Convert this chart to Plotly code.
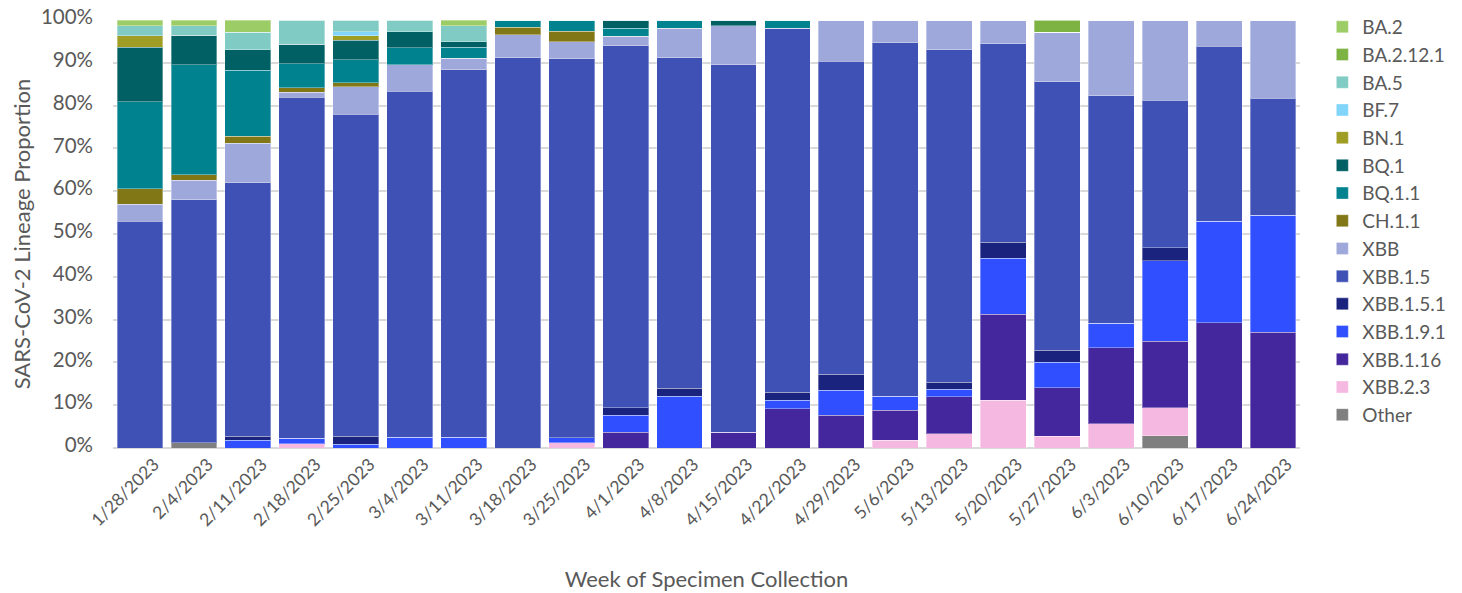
import plotly.graph_objects as go

weeks = ["1/28/2023", "2/4/2023", "2/11/2023", "2/18/2023", "2/25/2023", "3/4/2023",
         "3/11/2023", "3/18/2023", "3/25/2023", "4/1/2023", "4/8/2023", "4/15/2023",
         "4/22/2023", "4/29/2023", "5/6/2023", "5/13/2023", "5/20/2023", "5/27/2023",
         "6/3/2023", "6/10/2023", "6/17/2023", "6/24/2023"]

# Stack order bottom -> top
other     = [0, 1.2, 0, 0, 0, 0, 0, 0, 0, 0, 0, 0, 0, 0, 0, 0, 0, 0, 0, 2.9, 0, 0]
xbb_2_3   = [0, 0, 0, 1.0, 0, 0, 0, 0, 1.2, 0, 0, 0, 0, 0, 1.8, 3.3, 11.1, 2.8, 5.7, 6.5, 0, 0]
xbb_1_16  = [0, 0, 0, 0, 0, 0, 0, 0, 0, 3.7, 0, 3.7, 9.2, 7.6, 7.0, 8.7, 20.1, 11.3, 17.7, 15.6, 29.3, 27.1]
xbb_1_9_1 = [0, 0, 1.8, 1.3, 0.9, 2.5, 2.5, 0, 1.2, 3.9, 12.1, 0, 2.0, 5.9, 3.3, 1.7, 13.1, 5.9, 5.8, 18.7, 23.7, 27.3]
xbb_1_5_1 = [0, 0, 1.0, 0, 1.8, 0, 0, 0, 0, 1.8, 1.9, 0, 1.8, 3.7, 0, 1.7, 3.8, 2.8, 0, 3.1, 0, 0]
xbb_1_5   = [53.0, 56.8, 59.2, 79.6, 75.3, 80.8, 85.9, 91.2, 88.6, 84.6, 77.2, 85.9, 85.1, 73.2, 82.6, 77.6, 46.3, 62.8, 53.1, 34.4, 40.9, 27.3]
xbb       = [3.9, 4.6, 9.2, 1.2, 6.4, 6.3, 2.7, 5.3, 3.9, 2.2, 6.9, 9.1, 0, 9.6, 5.3, 7.0, 5.6, 11.5, 17.7, 18.8, 6.1, 18.3]
ch_1_1    = [3.7, 1.3, 1.6, 1.1, 0.9, 0, 0, 1.8, 2.5, 0, 0, 0, 0, 0, 0, 0, 0, 0, 0, 0, 0, 0]
bq_1_1    = [20.3, 25.6, 15.5, 5.6, 5.4, 3.9, 2.5, 1.7, 2.6, 1.9, 1.9, 0, 1.9, 0, 0, 0, 0, 0, 0, 0, 0, 0]
bq_1      = [12.7, 6.9, 4.8, 4.5, 4.6, 3.7, 1.3, 0, 0, 1.9, 0, 1.3, 0, 0, 0, 0, 0, 0, 0, 0, 0, 0]
bn_1      = [2.7, 0, 0, 0, 1.0, 0, 0, 0, 0, 0, 0, 0, 0, 0, 0, 0, 0, 0, 0, 0, 0, 0]
bf_7      = [0, 0, 0, 0, 0.9, 0, 0, 0, 0, 0, 0, 0, 0, 0, 0, 0, 0, 0, 0, 0, 0, 0]
ba_5      = [2.3, 2.3, 4.0, 5.7, 2.8, 2.8, 3.8, 0, 0, 0, 0, 0, 0, 0, 0, 0, 0, 0, 0, 0, 0, 0]
ba_2_12_1 = [0, 0, 0, 0, 0, 0, 0, 0, 0, 0, 0, 0, 0, 0, 0, 0, 0, 2.9, 0, 0, 0, 0]
ba_2      = [1.4, 1.3, 2.9, 0, 0, 0, 1.3, 0, 0, 0, 0, 0, 0, 0, 0, 0, 0, 0, 0, 0, 0, 0]

series = [
    ("Other", other, "#7F7F7F"),
    ("XBB.2.3", xbb_2_3, "#F5B9E1"),
    ("XBB.1.16", xbb_1_16, "#45279D"),
    ("XBB.1.9.1", xbb_1_9_1, "#304FFE"),
    ("XBB.1.5.1", xbb_1_5_1, "#1A237E"),
    ("XBB.1.5", xbb_1_5, "#3F51B5"),
    ("XBB", xbb, "#9FA8DA"),
    ("CH.1.1", ch_1_1, "#827717"),
    ("BQ.1.1", bq_1_1, "#00838F"),
    ("BQ.1", bq_1, "#006064"),
    ("BN.1", bn_1, "#A09D25"),
    ("BF.7", bf_7, "#81D4FA"),
    ("BA.5", ba_5, "#80CBC4"),
    ("BA.2.12.1", ba_2_12_1, "#7CB342"),
    ("BA.2", ba_2, "#9CCC65"),
]

fig = go.Figure()
for name, vals, color in series:
    fig.add_trace(go.Bar(
        x=weeks, y=vals, name=name,
        marker=dict(color=color, line=dict(color="rgba(255,255,255,0.35)", width=1)),
    ))

font_family = "Lato, 'Liberation Sans', sans-serif"
fig.update_layout(
    barmode="stack",
    bargap=0.15,
    width=1462, height=593,
    margin=dict(l=105, r=170, t=12, b=153),
    paper_bgcolor="white", plot_bgcolor="white",
    font=dict(family=font_family, color="#595959", size=20),
    legend=dict(
        traceorder="reversed",
        xref="container", yref="container",
        x=0.899, y=1.0, xanchor="left", yanchor="top",
        font=dict(size=19, color="#595959"),
        tracegroupgap=0, itemwidth=30, maxheight=1,
    ),
    xaxis=dict(
        tickangle=-45,
        tickfont=dict(size=17.5, color="#595959"),
        title=dict(text="Week of Specimen Collection", font=dict(size=22, color="#595959"), standoff=42),
        showgrid=False, showline=False, ticks="", automargin=False,
        ticklabelshift=14, ticklabelstandoff=2,
    ),
    yaxis=dict(
        range=[0, 100], dtick=10, ticksuffix="%",
        tickfont=dict(size=20.5, color="#595959"),
        title=dict(text="SARS-CoV-2 Lineage Proportion", font=dict(size=22, color="#595959"), standoff=10),
        showgrid=True, gridcolor="#D9D9D9", gridwidth=1.5,
        zeroline=True, zerolinecolor="#D9D9D9", zerolinewidth=1.5,
        showline=False, ticks="", ticklabelstandoff=19, automargin=False,
        ticklabeloverflow="allow", ticklabelshift=-3,
    ),
)

fig.write_html("out.html")
